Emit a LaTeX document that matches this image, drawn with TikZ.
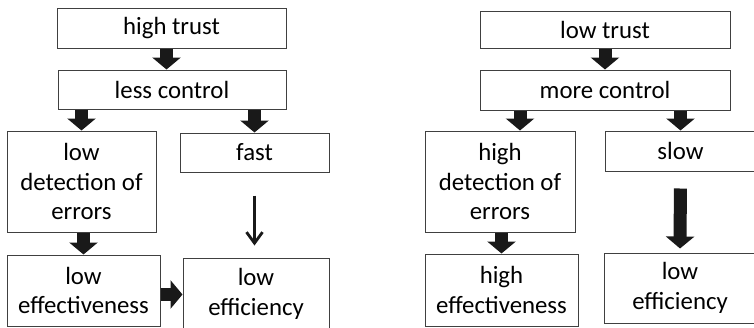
\documentclass[tikz,border=0pt]{standalone}
\usepackage{fontspec}
\setmainfont{Carlito}
\usepackage{tikz}
\usetikzlibrary{arrows.meta}
\tikzstyle{box} = [draw=black!75, line width=1pt, inner sep=0pt, align=center, font=\fontsize{24.8}{29.5}\selectfont]
\tikzstyle{bigarrow} = [line width=13pt, black!90, -{Triangle[width=28pt,length=12pt]}]
\tikzstyle{arrow} = [line width=2.8pt, black!90, -{Straight Barb[width=16pt,length=11pt]}]

\begin{document}
\begin{tikzpicture}[x=1pt, y=-1pt]
\useasboundingbox (0,0) rectangle (754,327);
% high trust side
\node[box, minimum width=229pt, minimum height=40pt] (htrust) at (171.5,28) {high trust};
\node[box, minimum width=228pt, minimum height=39pt] (lcontrol) at (172,89.5) {less control};
\node[box, minimum width=149pt, minimum height=101pt] (ldetect) at (81.5,181.5) {low\\detection of\\errors};
\node[box, minimum width=149pt, minimum height=39pt] (fast) at (254.5,152.5) {fast};
\node[box, minimum width=153pt, minimum height=71pt] (leffect) at (83.5,290.5) {low\\effectiveness};
\node[box, minimum width=146pt, minimum height=72pt] (leffic) at (256,294) {low\\efficiency};
\draw[bigarrow] ([xshift=-5pt]htrust.south) -- ([xshift=-5pt]htrust.south |- lcontrol.north);
\draw[bigarrow] (lcontrol.south -| ldetect) -- (ldetect.north);
\draw[bigarrow] (lcontrol.south -| fast) -- (fast.north);
\draw[bigarrow] (ldetect.south -| leffect) -- (leffect.north);
\draw[bigarrow] ([yshift=-4pt]leffect.east) -- ([yshift=-4pt]leffect.east -| leffic.west);
\draw[arrow, shorten <=23pt, shorten >=12pt] (fast.south) -- (fast.south |- leffic.north);
% low trust side
\node[box, minimum width=250pt, minimum height=37pt] (ltrust) at (605,29.5) {low trust};
\node[box, minimum width=250pt, minimum height=40pt] (mcontrol) at (605,90) {more control};
\node[box, minimum width=150pt, minimum height=101pt] (hdetect) at (500,181.5) {high\\detection of\\errors};
\node[box, minimum width=151pt, minimum height=40pt] (slow) at (680.5,151) {slow};
\node[box, minimum width=153pt, minimum height=72pt] (heffect) at (501.5,290) {high\\effectiveness};
\node[box, minimum width=152pt, minimum height=70pt] (leffic2) at (680,288) {low\\efficiency};
\draw[bigarrow] (ltrust.south) -- (mcontrol.north);
\draw[bigarrow] ([xshift=20pt]hdetect.north |- mcontrol.south) -- ([xshift=20pt]hdetect.north);
\draw[bigarrow] (mcontrol.south -| slow) -- (slow.north);
\draw[bigarrow] (hdetect.south -| heffect) -- (heffect.north);
\draw[bigarrow, shorten <=17pt, shorten >=4pt] (slow.south) -- (leffic2.north);
\end{tikzpicture}
\end{document}
